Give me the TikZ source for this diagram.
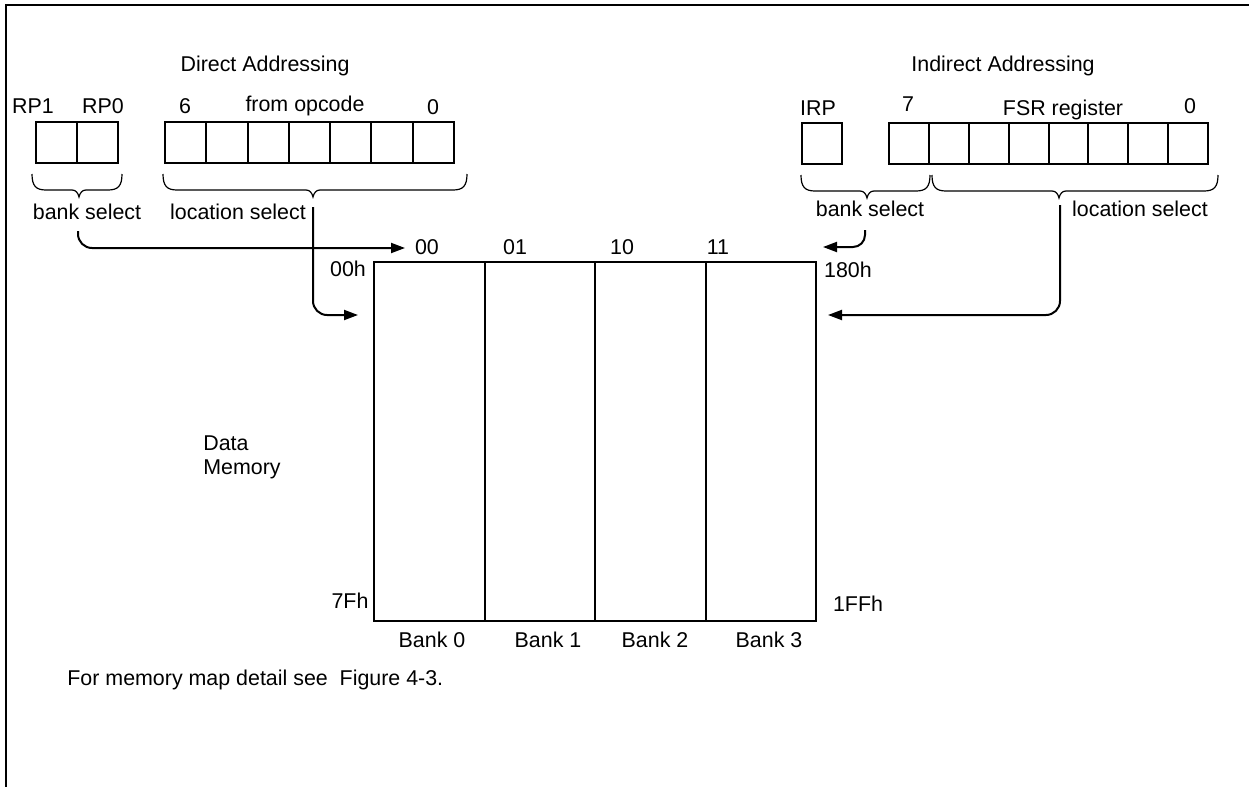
\documentclass[tikz,border=0pt]{standalone}
\usepackage{fontspec}
\setmainfont{Liberation Sans}
\usetikzlibrary{arrows.meta}
\newcommand\lbf{\fontsize{10.7}{12}\selectfont}
\newcommand\mybrace[4]{\draw[brc] (#1,#4) .. controls (#1,#4+12) and (#1+4,#4+16) .. (#1+14,#4+16) -- (#2-7,#4+16) .. controls (#2-3,#4+16) and (#2-1,#4+19) .. (#2,#4+23) .. controls (#2+1,#4+19) and (#2+3,#4+16) .. (#2+7,#4+16) -- (#3-14,#4+16) .. controls (#3-4,#4+16) and (#3,#4+12) .. (#3,#4);}
\begin{document}
\begin{tikzpicture}[x=0.5pt,y=-0.5pt,
 lbl/.style={font=\lbf, inner sep=0pt, anchor=base},
 lbll/.style={font=\lbf, inner sep=0pt, anchor=base west},
 cell/.style={draw, line width=1pt, minimum height=20.5pt, inner sep=0pt},
 brc/.style={line width=0.6pt},
 conn/.style={line width=1pt, -{Triangle[length=7pt,width=5pt]}},
 bank/.style={draw, line width=1pt, minimum width=55.25pt, minimum height=179.5pt, inner sep=0pt}]
\useasboundingbox (0,0) rectangle (1249,787);
\draw[line width=1pt] (6,787) -- (6,5) -- (1249,5);

% ---- Direct addressing ----
\node[lbl] (dirt) at (265,71) {Direct Addressing};
\node[lbl] (rp1l) at (33,113) {RP1};
\node[lbl] (rp0l) at (103,113) {RP0};
\node[lbl] (op6l) at (185,113) {6};
\node[lbl] (opl) at (305,112) {from opcode};
\node[lbl] (op0l) at (433,114) {0};
\node[cell, minimum width=20.5pt] (rp1) at (56.5,142.5) {};
\node[cell, minimum width=20.5pt] (rp0) at (97.5,142.5) {};
\foreach \i in {0,...,6}
  \node[cell, minimum width=20.64pt] (op\i) at ({165+41.29*(\i+0.5)},142.5) {};
\mybrace{32}{79}{122}{174}
\mybrace{163}{313}{467}{174}
\node[lbl] (bsl) at (87,219) {bank select};
\node[lbl] (lsl) at (238,219) {location select};

% ---- Indirect addressing ----
\node[lbl] (indt) at (1003,71) {Indirect Addressing};
\node[lbl] (irpl) at (818,115) {IRP};
\node[lbl] (f7l) at (908,112) {7};
\node[lbl] (fsrl) at (1063,115) {FSR register};
\node[lbl] (f0l) at (1190,113) {0};
\node[cell, minimum width=20pt] (irp) at (822,143) {};
\foreach \i in {0,...,7}
  \node[cell, minimum width=19.94pt] (fsr\i) at ({889+39.875*(\i+0.5)},143) {};
\mybrace{801}{867}{930}{175}
\mybrace{932}{1059}{1218}{175}
\node[lbl] (bsr) at (870,216) {bank select};
\node[lbl] (lsr) at (1140,216) {location select};

% ---- Memory ----
\foreach \i in {0,...,3}
  \node[bank] (bank\i) at ({374+110.5*(\i+0.5)},441.5) {};
\node[lbl] (b00) at (427,254) {00};
\node[lbl] (b01) at (515,254) {01};
\node[lbl] (b10) at (622,254) {10};
\node[lbl] (b11) at (718,254) {11};
\node[lbl] (a00h) at (348,276) {00h};
\node[lbl] (a180h) at (848,277) {180h};
\node[lbl] (a7fh) at (350,608) {7Fh};
\node[lbl] (a1ffh) at (858,611) {1FFh};
\node[lbl] (bk0) at (432,647) {Bank 0};
\node[lbl] (bk1) at (548,647) {Bank 1};
\node[lbl] (bk2) at (655,647) {Bank 2};
\node[lbl] (bk3) at (769,647) {Bank 3};
\node[lbll] (dm1) at (203,450) {Data};
\node[lbll] (dm2) at (203,474) {Memory};
\node[lbll] (foot) at (67,685) {For memory map detail see\ \ Figure 4-3.};

% ---- Connectors ----
\coordinate (bsLs) at (78,231);
\coordinate (bsLe) at (405,248);
\coordinate (lsLs) at (313,207);
\coordinate (lsLe) at (358,315);
\coordinate (bsRs) at (865,230);
\coordinate (bsRe) at (823,247);
\coordinate (lsRs) at (1060,205);
\coordinate (lsRe) at (828,315);
\draw[conn, rounded corners=7pt] (bsLs) |- (bsLe);
\draw[conn, rounded corners=7pt] (lsLs) |- (lsLe);
\draw[conn, rounded corners=6pt] (bsRs) |- (bsRe);
\draw[conn, rounded corners=7pt] (lsRs) |- (lsRe);
\end{tikzpicture}
\end{document}
